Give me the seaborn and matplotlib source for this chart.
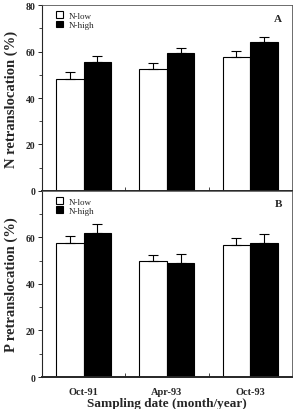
import pandas as pd
import numpy as np
import matplotlib
matplotlib.use('Agg')
import matplotlib.pyplot as plt
import seaborn as sns
from matplotlib.ticker import MultipleLocator

# Values
dates = ['Oct-91', 'Apr-93', 'Oct-93']
treatments = ['N-low', 'N-high']

n_low = [48.3, 52.6, 57.6]
n_low_se = [2.8, 2.6, 2.6]
n_high = [55.6, 59.2, 64.2]
n_high_se = [2.3, 2.2, 2.2]

p_low = [57.8, 49.8, 56.9]
p_low_se = [2.6, 2.6, 2.7]
p_high = [61.9, 49.2, 57.5]
p_high_se = [4.0, 3.8, 3.8]

sns.set_style('ticks')
plt.rcParams['font.family'] = ['Liberation Serif', 'DejaVu Serif']

fig = plt.figure(figsize=(2.96, 4.10), dpi=100)
ax_a = fig.add_axes([0.142, 0.532, 0.844, 0.453])
ax_b = fig.add_axes([0.142, 0.078, 0.844, 0.454])


def panel(ax, low, low_se, high, high_se, letter, ylabel):
    df = pd.DataFrame({
        'date': dates * 2,
        'treatment': [treatments[0]] * 3 + [treatments[1]] * 3,
        'value': low + high,
        'se': low_se + high_se,
    })
    sns.barplot(data=df, x='date', y='value', hue='treatment', order=dates,
                hue_order=treatments, palette=['white', 'black'],
                edgecolor='black', linewidth=0.8, width=0.66, errorbar=None,
                ax=ax)
    # one-sided error bars at the bar centres
    bars = [p for p in ax.patches if p.get_height() > 0]
    xs = [b.get_x() + b.get_width() / 2 for b in bars]
    hs = [b.get_height() for b in bars]
    errs = list(df['se'])
    ax.errorbar(xs, hs, yerr=[np.zeros(len(errs)), errs], fmt='none',
                ecolor='black', elinewidth=0.8, capsize=3.5, capthick=0.8)

    ax.set_xlim(-0.5, 2.5)
    ax.set_ylim(0, 80)
    ax.yaxis.set_major_locator(MultipleLocator(20))
    ax.yaxis.set_minor_locator(MultipleLocator(10))
    ax.set_xticks([0, 1, 2])
    ax.set_xticks([0.5, 1.5], minor=True)
    ax.tick_params(axis='y', which='major', length=3, width=0.7,
                   labelsize=7, pad=2)
    ax.tick_params(axis='y', which='minor', length=2, width=0.6)
    ax.tick_params(axis='x', which='major', length=0, labelsize=7.5, pad=7)
    ax.tick_params(axis='x', which='minor', length=3, width=0.6,
                   direction='in')
    for lab in ax.get_yticklabels() + ax.get_xticklabels():
        lab.set_fontweight('bold')
    for side in ['top', 'right']:
        ax.spines[side].set_visible(True)
        ax.spines[side].set_linewidth(0.6)
        ax.spines[side].set_color('#555555')
    ax.spines['left'].set_linewidth(0.8)
    ax.spines['bottom'].set_linewidth(1.4)
    ax.set_ylabel(ylabel, fontsize=10.5, fontweight='bold', labelpad=5)
    ax.set_xlabel('')
    ax.text(0.96, 0.93, letter, transform=ax.transAxes, ha='right',
            va='center', fontsize=8, fontweight='bold')
    handles, labels = ax.get_legend_handles_labels()
    ax.legend(handles, labels, loc='upper left', bbox_to_anchor=(0.03, 1.0),
              frameon=False, fontsize=6.5, handlelength=0.8, handleheight=0.8,
              handletextpad=0.6, labelspacing=0.05, borderaxespad=0.3)


panel(ax_a, n_low, n_low_se, n_high, n_high_se, 'A', 'N retranslocation (%)')
panel(ax_b, p_low, p_low_se, p_high, p_high_se, 'B', 'P retranslocation (%)')

ax_a.set_xticklabels([])
ax_b.set_yticks([0, 20, 40, 60])
ax_b.set_xlabel('Sampling date (month/year)', fontsize=9.5, fontweight='bold',
                labelpad=1)

fig.savefig('out.png', dpi=100)
